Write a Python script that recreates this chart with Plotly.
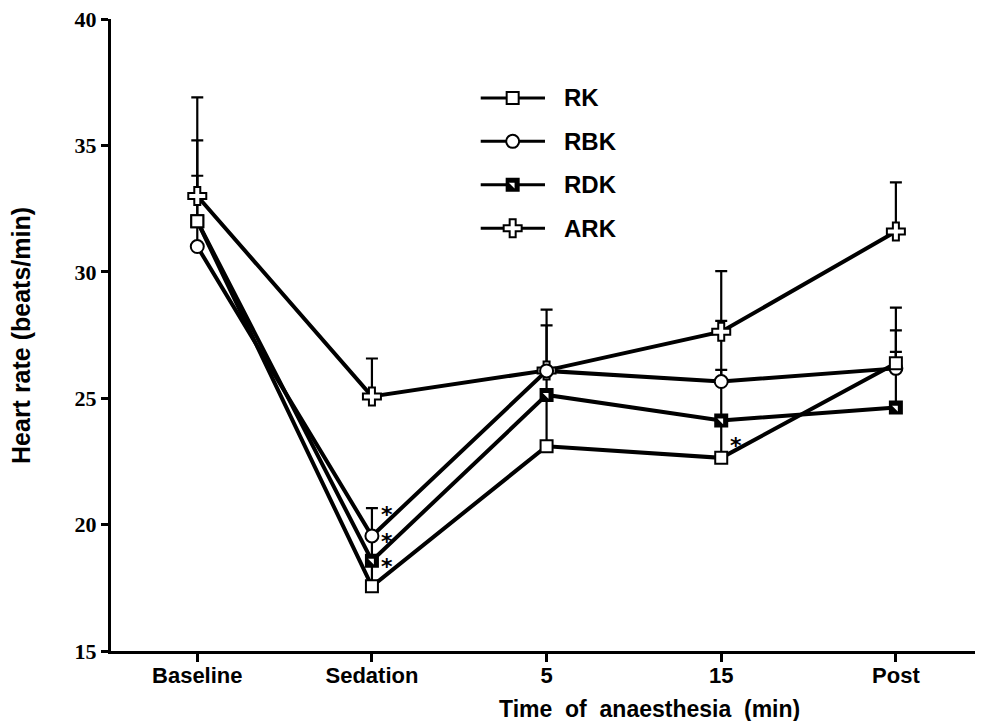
import plotly.graph_objects as go

# ---------------- data ----------------
categories = ["Baseline", "Sedation", "5", "15", "Post"]

rk = [32.0, 17.56, 23.1, 22.64, 26.38]
rk_err = [3.2, 1.2, 2.0, 1.5, 2.2]

rbk = [31.0, 19.55, 26.08, 25.66, 26.18]
rbk_err = [1.2, 1.1, 1.8, 2.4, 1.5]

rdk = [32.0, 18.57, 25.13, 24.12, 24.63]
rdk_err = [1.8, 1.0, 1.0, 2.0, 2.2]

ark = [33.0, 25.07, 26.1, 27.63, 31.59]
ark_err = [3.9, 1.5, 2.4, 2.4, 1.95]

# significance asterisks (category, value level)
sig_cat = ["Sedation", "Sedation", "Sedation", "15"]
sig_val = [20.65, 19.55, 18.57, 23.37]

y_ticks = [15, 20, 25, 30, 35, 40]

# ---------------- styling ----------------
SANS = "Liberation Sans"
SERIF = "Liberation Serif"
LW = 4
MS = 12
NB = "\u00a0"

x = list(range(len(categories)))
xi = {c: i for i, c in enumerate(categories)}

# drawing order (bottom -> top)
series = [
    ("ARK", ark, ark_err, "cross", MS + 3),
    ("RDK", rdk, rdk_err, "square", MS),
    ("RBK", rbk, rbk_err, "circle", MS + 1),
    ("RK", rk, rk_err, "square", MS),
]

fig = go.Figure()

# lines + error bars first (beneath every marker)
for name, vals, errs, sym, sz in series:
    fig.add_trace(go.Scatter(
        x=x, y=vals, mode="lines", showlegend=False,
        line=dict(color="black", width=LW),
        error_y=dict(type="data", symmetric=False, array=errs,
                     arrayminus=[0] * len(errs), color="black",
                     thickness=2.2, width=6),
        hoverinfo="skip",
    ))


def rdk_marker_traces(xs, ys, xa="x", ya="y"):
    # black square with a white upper-right corner (half-shaded symbol)
    return [
        go.Scatter(x=xs, y=ys, mode="markers", showlegend=False, xaxis=xa, yaxis=ya,
                   marker=dict(symbol="square", size=MS, color="black",
                               line=dict(color="black", width=2)),
                   hoverinfo="skip"),
        go.Scatter(x=xs, y=ys, mode="markers", showlegend=False, xaxis=xa, yaxis=ya,
                   marker=dict(symbol="triangle-ne", size=6.4, color="white",
                               line=dict(width=0)),
                   hoverinfo="skip"),
    ]


# markers on top
for name, vals, errs, sym, sz in series:
    if name == "RDK":
        for t in rdk_marker_traces(x, vals):
            fig.add_trace(t)
        continue
    fig.add_trace(go.Scatter(
        x=x, y=vals, mode="markers", showlegend=False, name=name,
        marker=dict(symbol=sym, size=sz, color="white",
                    line=dict(color="black", width=2)),
    ))

# asterisks
for c, v in zip(sig_cat, sig_val):
    fig.add_annotation(x=xi[c], y=v, xref="x", yref="y", text="*",
                       showarrow=False, xshift=15, yshift=-6,
                       font=dict(family="DejaVu Sans", size=22, color="black",
                                 weight="bold"))

# ---------------- custom legend (overlay axes in plot-area fractions) ----------------
leg_names = ["RK", "RBK", "RDK", "ARK"]
leg_syms = {"RK": ("square", MS), "RBK": ("circle", MS + 1),
            "RDK": ("square", MS), "ARK": ("cross", MS + 3)}
leg_y0, leg_dy = 0.8751, 0.0687
lx0, lxm, lx1, ltx = 0.4279, 0.4649, 0.5023, 0.5216
for k, nm in enumerate(leg_names):
    yy = leg_y0 - k * leg_dy
    fig.add_trace(go.Scatter(x=[lx0, lx1], y=[yy, yy], mode="lines",
                             xaxis="x2", yaxis="y2", showlegend=False,
                             line=dict(color="black", width=3),
                             hoverinfo="skip"))
    sym, sz = leg_syms[nm]
    if nm == "RDK":
        for t in rdk_marker_traces([lxm], [yy], "x2", "y2"):
            fig.add_trace(t)
    else:
        fig.add_trace(go.Scatter(x=[lxm], y=[yy], mode="markers",
                                 xaxis="x2", yaxis="y2", showlegend=False,
                                 marker=dict(symbol=sym, size=sz, color="white",
                                             line=dict(color="black", width=2)),
                                 hoverinfo="skip"))
    fig.add_annotation(x=ltx, y=yy, xref="paper", yref="paper", text=nm,
                       showarrow=False, xanchor="left", yanchor="middle",
                       font=dict(family=SANS, size=24, color="black",
                                 weight="bold"))

# axis titles
xtitle = "Time of anaesthesia (min)".replace(" ", NB + NB)
fig.add_annotation(x=0.6227, y=-0.0918, xref="paper", yref="paper",
                   text=xtitle, showarrow=False,
                   xanchor="center", yanchor="middle",
                   font=dict(family=SANS, size=23, color="black", weight="bold"))
fig.add_annotation(x=-0.1042, y=0.5, xref="paper", yref="paper",
                   text="Heart rate (beats/min)", showarrow=False, textangle=-90,
                   xanchor="center", yanchor="middle",
                   font=dict(family=SANS, size=25, color="black", weight="bold"))

fig.update_layout(
    width=982, height=721,
    margin=dict(l=111, r=7, t=15, b=70),
    paper_bgcolor="white", plot_bgcolor="white",
    showlegend=False,
    xaxis=dict(range=[-0.494, 4.453], tickvals=x, ticktext=categories,
               showline=True, linecolor="black", linewidth=3,
               ticks="outside", ticklen=8, tickwidth=3, tickcolor="black",
               showgrid=False, zeroline=False, ticklabelstandoff=-5,
               tickfont=dict(family=SANS, size=22, color="black", weight="bold")),
    yaxis=dict(range=[15, 40], tickvals=y_ticks,
               ticktext=["<b>%d</b>" % v for v in y_ticks],
               showline=True, linecolor="black", linewidth=3,
               ticks="outside", ticklen=7, tickwidth=3, tickcolor="black",
               showgrid=False, zeroline=False,
               tickfont=dict(family=SERIF, size=22, color="black", weight="bold")),
    xaxis2=dict(overlaying="x", range=[0, 1], visible=False, fixedrange=True),
    yaxis2=dict(overlaying="y", range=[0, 1], visible=False, fixedrange=True),
)

fig.write_html("out.html")
